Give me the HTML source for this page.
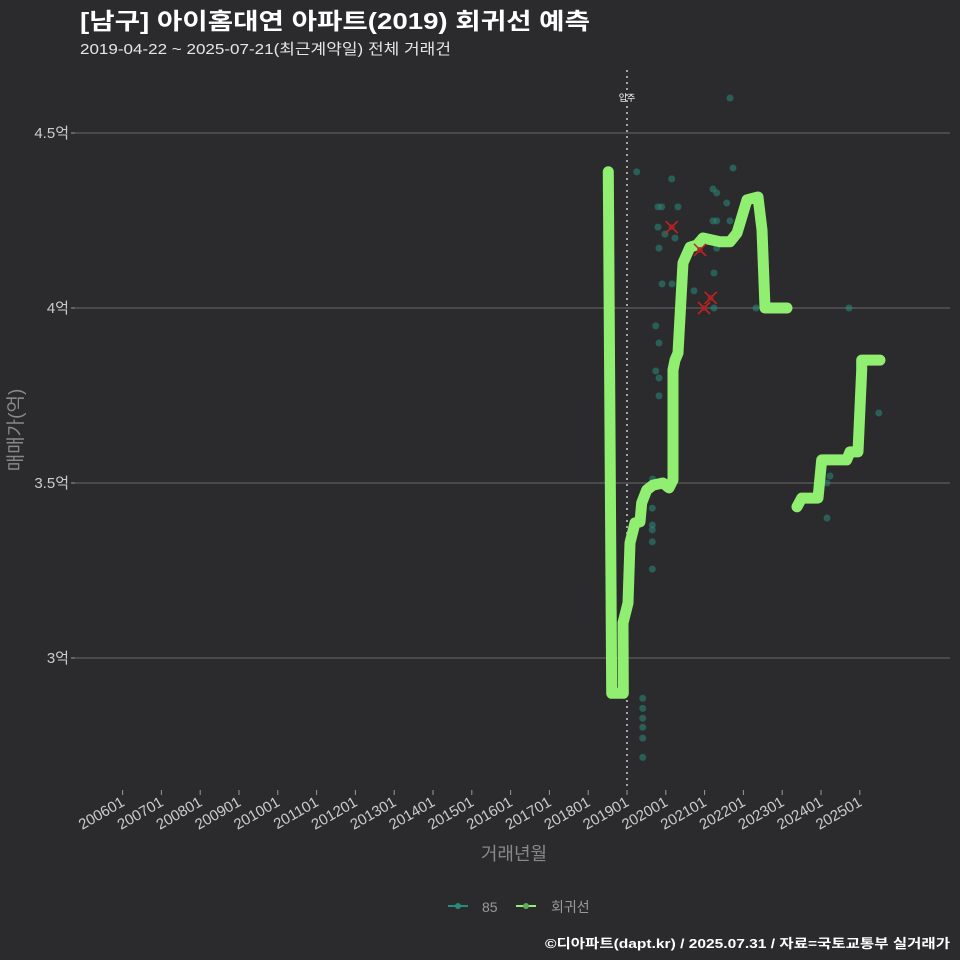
<!DOCTYPE html>
<html><head><meta charset="utf-8"><style>
html,body{margin:0;padding:0;background:#2b2b2d}
svg{display:block}
text{font-family:"Liberation Sans","Noto Sans CJK KR",sans-serif}
</style></head><body>
<svg id="chart" width="960" height="960" xmlns="http://www.w3.org/2000/svg">
<rect width="960" height="960" fill="#2b2b2d"/>
<text x="80" y="29" font-size="23" font-weight="bold" fill="#ffffff" textLength="510" lengthAdjust="spacingAndGlyphs">[남구] 아이홈대연 아파트(2019) 회귀선 예측</text>
<text x="80" y="54" font-size="15" fill="#e6e6e6" textLength="371" lengthAdjust="spacingAndGlyphs">2019-04-22 ~ 2025-07-21(최근계약일) 전체 거래건</text>
<g id="grid"></g>
<g id="xaxis"></g>
<g id="yaxis"></g>
<line x1="627" y1="70" x2="627" y2="790" stroke="#cccccc" stroke-width="1.5" stroke-dasharray="2,4"/>
<text x="627" y="101" font-size="9" fill="#ffffff" text-anchor="middle">입주</text>
<g id="points"></g>
<g id="lines"></g>
<g id="marks"></g>
<text x="514" y="860" font-size="18" fill="#888888" text-anchor="middle">거래년월</text>
<text transform="translate(22,430) rotate(-90)" font-size="19" fill="#888888" text-anchor="middle">매매가(억)</text>
<g>
<g>
<line x1="448" y1="906" x2="468" y2="906" stroke="#2a8a7a" stroke-width="2"/>
<circle cx="458" cy="906" r="3" fill="#2a8a7a"/>
<text x="482" y="912" font-size="14" fill="#999999">85</text></g>
<g>
<line x1="516" y1="906" x2="536" y2="906" stroke="#90ee70" stroke-width="2"/>
<circle cx="526" cy="906" r="3" fill="#5cae5c"/>
<text x="551" y="912" font-size="14" fill="#999999">회귀선</text></g>
</g>
<text x="545" y="948" font-size="13" font-weight="bold" fill="#ffffff" textLength="405" lengthAdjust="spacingAndGlyphs">©디아파트(dapt.kr) / 2025.07.31 / 자료=국토교통부 실거래가</text>
</svg>
<script>
const yTicks=[3,3.5,4,4.5];
const yTickLabels=["3억","3.5억","4억","4.5억"];
const xTickYears=[2006,2007,2008,2009,2010,2011,2012,2013,2014,2015,2016,2017,2018,2019,2020,2021,2022,2023,2024,2025];
const xTickLabels=["200601","200701","200801","200901","201001","201101","201201","201301","201401","201501","201601","201701","201801","201901","202001","202101","202201","202301","202401","202501"];
const line1T=[2018.518,2018.606,2018.905,2018.897,2019.026,2019.077,2019.206,2019.335,2019.379,2019.508,2019.67,2019.928,2020.082,2020.186,2020.186,2020.237,2020.314,2020.443,2020.624,2020.804,2020.959,2021.397,2021.655,2021.835,2022.093,2022.376,2022.479,2022.557,2023.124];
const line1V=[4.389,2.899,2.899,3.10,3.157,3.329,3.386,3.389,3.443,3.48,3.494,3.50,3.486,3.509,3.823,3.851,3.871,4.129,4.174,4.18,4.20,4.189,4.189,4.214,4.309,4.317,4.223,4.00,4.00];
const line2T=[2023.381,2023.503,2023.923,2024.018,2024.662,2024.747,2024.954,2025.049,2025.049,2025.52];
const line2V=[3.432,3.457,3.457,3.566,3.566,3.589,3.589,3.823,3.851,3.851];
const ptT=[2021.655,2019.25,2021.732,2020.152,2021.216,2021.312,2021.57,2019.799,2019.894,2020.314,2021.216,2021.312,2021.655,2019.799,2019.979,2020.237,2021.312,2019.825,2021.242,2019.902,2020.16,2020.727,2021.242,2022.325,2024.722,2019.74,2019.825,2019.74,2019.825,2019.825,2025.49,2019.662,2024.232,2024.155,2024.155,2019.652,2019.652,2019.652,2019.652,2019.652,2019.405,2019.405,2019.405,2019.405,2019.405,2019.405];
const ptV=[4.60,4.389,4.40,4.369,4.34,4.329,4.30,4.289,4.289,4.289,4.249,4.249,4.249,4.231,4.211,4.20,4.171,4.171,4.10,4.069,4.069,4.049,4.00,4.00,4.00,3.949,3.90,3.82,3.80,3.749,3.70,3.511,3.52,3.50,3.40,3.428,3.38,3.366,3.332,3.254,2.885,2.856,2.828,2.802,2.771,2.716];
const xMarkT=[2020.152,2020.881,2021.157,2020.985];
const xMarkV=[4.231,4.166,4.029,4.00];

const NS="http://www.w3.org/2000/svg";
const xs=t=>627+(t-2019)*38.8;
const ys=v=>308-(v-4)*350;
function mk(tag,attrs,parent){const e=document.createElementNS(NS,tag);for(const k in attrs)e.setAttribute(k,attrs[k]);parent.appendChild(e);return e;}
const grid=document.getElementById('grid'),ya=document.getElementById('yaxis'),xa=document.getElementById('xaxis');
yTicks.forEach((v,i)=>{
  const g=mk('line',{x1:75,x2:950,y1:ys(v),y2:ys(v),stroke:'#6a6a6a','stroke-width':1},grid);
  
  
  mk('line',{x1:71,x2:75,y1:ys(v),y2:ys(v),stroke:'#999'},ya);
  const t=mk('text',{x:69,y:ys(v)+5,'font-size':15,fill:'#cccccc','text-anchor':'end'},ya);
  t.textContent=yTickLabels[i];
  
  
});
xTickYears.forEach((yr,i)=>{
  const x=xs(yr);
  mk('line',{x1:x,x2:x,y1:790,y2:795,stroke:'#999'},xa);
  const t=mk('text',{transform:`translate(${x+3},${805}) rotate(-30)`,'font-size':15,fill:'#cccccc','text-anchor':'end'},xa);
  t.textContent=xTickLabels[i];
  
  
});
const pg=document.getElementById('points');
ptT.forEach((t,i)=>{
  const c=mk('circle',{cx:xs(t),cy:ys(ptV[i]),r:3.5,fill:'#2a8a7a','fill-opacity':0.55},pg);
  
  
});
const lg=document.getElementById('lines');
[[line1T,line1V],[line2T,line2V]].forEach(([T,V])=>{
  const d=T.map((t,i)=>(i?'L':'M')+xs(t).toFixed(1)+','+ys(V[i]).toFixed(1)).join(' ');
  const p=mk('path',{d:d,fill:'none',stroke:'#90ee70','stroke-width':11,'stroke-linecap':'round','stroke-linejoin':'round'},lg);
  
  
});
const mg=document.getElementById('marks');
xMarkT.forEach((t,i)=>{
  const x=xs(t),y=ys(xMarkV[i]);
  const g=mk('g',{},mg);
  
  
  mk('path',{d:`M${x-6},${y-6}L${x+6},${y+6}M${x-6},${y+6}L${x+6},${y-6}`,stroke:'#cc2222','stroke-width':1.5},g);
  mk('circle',{cx:x,cy:y,r:3,fill:'#aa2222','fill-opacity':0.8},g);
});
</script>
</body></html>
